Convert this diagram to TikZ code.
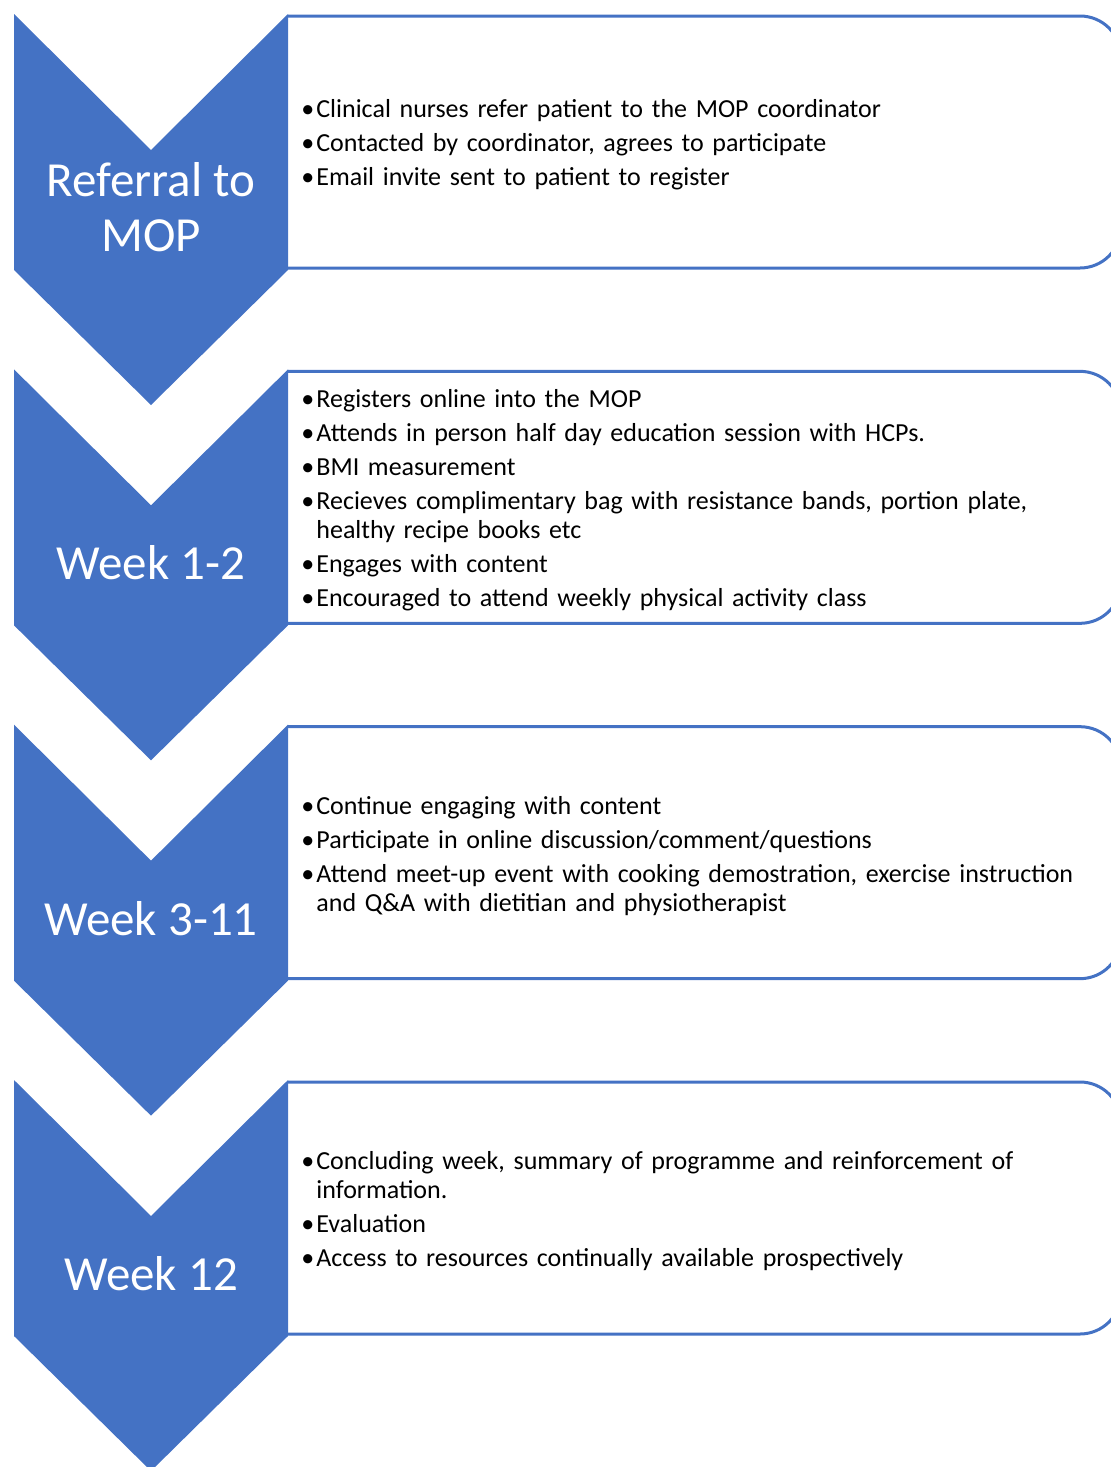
\documentclass[tikz,border=0pt]{standalone}
\usepackage{fontspec}
\setmainfont{Carlito}
\definecolor{mopblue}{HTML}{4472C4}
\newcommand{\itm}[1]{\par\noindent\hangindent=7.5pt\hangafter=1\makebox[7.5pt][l]{\textbullet}#1\par}
\tikzset{
  chevron/.style={fill=mopblue},
  infobox/.style={draw=mopblue,line width=1.5pt,rounded corners=20.5pt},
  stagetext/.style={text=white,align=center,font=\fontsize{24.5}{27.5}\selectfont},
  infotext/.style={anchor=west,inner sep=0pt,text width=400pt,align=left,
    font=\fontsize{13}{14.5}\selectfont\setlength{\parskip}{2.5pt}}
}
\begin{document}
\begin{tikzpicture}[x=0.5pt,y=-0.5pt]
\useasboundingbox (0,0) rectangle (1111,1467);

% boxes and chevrons
\foreach \t in {14,369.33,724.67,1080} {
  \draw[infobox] (288,\t+2) -- (1121,\t+2) -- (1121,\t+254) -- (288,\t+254);
  \fill[chevron] (14,\t) -- (151,\t+136) -- (288,\t) -- (288,\t+256)
    -- (151,\t+391) -- (14,\t+256) -- cycle;
}

\node[stagetext] (stage1) at (151,207) {Referral to\\MOP};
\node[stagetext] (stage2) at (151,563) {Week 1-2};
\node[stagetext] (stage3) at (151,918.5) {Week 3-11};
\node[stagetext] (stage4) at (151,1274) {Week 12};

\node[infotext] (info1) at (301,137) {%
  \itm{Clinical nurses refer patient to the MOP coordinator}
  \itm{Contacted by coordinator, agrees to participate}
  \itm{Email invite sent to patient to register}};
\node[infotext] (info2) at (301,492.33) {%
  \itm{Registers online into the MOP}
  \itm{Attends in person half day education session with HCPs.}
  \itm{BMI measurement}
  \itm{Recieves complimentary bag with resistance bands, portion plate,\newline healthy recipe books etc}
  \itm{Engages with content}
  \itm{Encouraged to attend weekly physical activity class}};
\node[infotext] (info3) at (301,847.67) {%
  \itm{Continue engaging with content}
  \itm{Participate in online discussion/comment/questions}
  \itm{Attend meet-up event with cooking demostration, exercise instruction\newline and Q\&A with dietitian and physiotherapist}};
\node[infotext] (info4) at (301,1203) {%
  \itm{Concluding week, summary of programme and reinforcement of\newline information.}
  \itm{Evaluation}
  \itm{Access to resources continually available prospectively}};

\end{tikzpicture}
\end{document}
